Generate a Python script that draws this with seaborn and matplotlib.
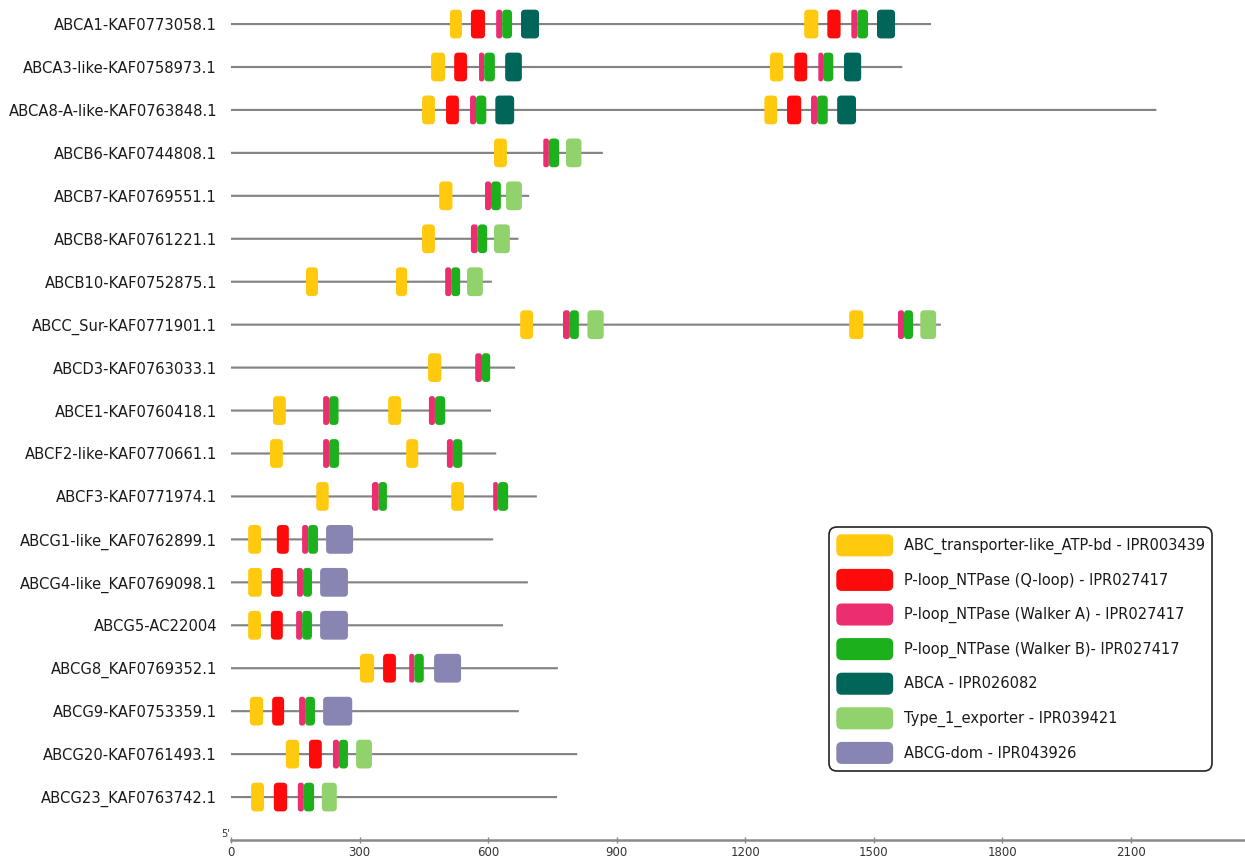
import matplotlib
matplotlib.use("Agg")
import matplotlib.pyplot as plt
from matplotlib.patches import FancyBboxPatch, Patch
from matplotlib.legend_handler import HandlerPatch
import seaborn as sns
import pandas as pd

# Proteins (top to bottom) and their lengths in amino acids
genes = [
    "ABCA1-KAF0773058.1", "ABCA3-like-KAF0758973.1", "ABCA8-A-like-KAF0763848.1",
    "ABCB6-KAF0744808.1", "ABCB7-KAF0769551.1", "ABCB8-KAF0761221.1",
    "ABCB10-KAF0752875.1", "ABCC_Sur-KAF0771901.1", "ABCD3-KAF0763033.1",
    "ABCE1-KAF0760418.1", "ABCF2-like-KAF0770661.1", "ABCF3-KAF0771974.1",
    "ABCG1-like_KAF0762899.1", "ABCG4-like_KAF0769098.1", "ABCG5-AC22004",
    "ABCG8_KAF0769352.1", "ABCG9-KAF0753359.1", "ABCG20-KAF0761493.1",
    "ABCG23_KAF0763742.1",
]
lengths = [1634, 1567, 2160, 868, 696, 671, 609, 1657, 663, 607,
           619, 714, 612, 693, 635, 763, 672, 808, 761]

# Domain hits: (gene symbol, start, end)
atp_bd = [
    ("ABCA1", 511, 539), ("ABCA1", 1338, 1371),
    ("ABCA3", 467, 500), ("ABCA3", 1258, 1289),
    ("ABCA8", 446, 476), ("ABCA8", 1245, 1275),
    ("ABCB6", 614, 644), ("ABCB7", 486, 517), ("ABCB8", 446, 476),
    ("ABCB10", 175, 203), ("ABCB10", 385, 411),
    ("ABCC", 675, 705), ("ABCC", 1443, 1476),
    ("ABCD3", 460, 491),
    ("ABCE1", 98, 128), ("ABCE1", 367, 397),
    ("ABCF2", 91, 121), ("ABCF2", 409, 437),
    ("ABCF3", 199, 228), ("ABCF3", 514, 544),
    ("ABCG1", 40, 70), ("ABCG4", 40, 72), ("ABCG5", 40, 70),
    ("ABCG8", 301, 334), ("ABCG9", 44, 75), ("ABCG20", 128, 159),
    ("ABCG23", 47, 77),
]
q_loop = [
    ("ABCA1", 560, 593), ("ABCA1", 1392, 1423),
    ("ABCA3", 521, 551), ("ABCA3", 1315, 1345),
    ("ABCA8", 502, 532), ("ABCA8", 1298, 1331),
    ("ABCG1", 107, 135), ("ABCG4", 93, 121), ("ABCG5", 93, 121),
    ("ABCG8", 355, 385), ("ABCG9", 96, 124), ("ABCG20", 182, 212),
    ("ABCG23", 100, 131),
]
walker_a = [
    ("ABCA1", 619, 633), ("ABCA1", 1448, 1462),
    ("ABCA3", 579, 591), ("ABCA3", 1371, 1382),
    ("ABCA8", 558, 572), ("ABCA8", 1354, 1368),
    ("ABCB6", 729, 742), ("ABCB7", 593, 607), ("ABCB8", 560, 576),
    ("ABCB10", 500, 514),
    ("ABCC", 775, 791), ("ABCC", 1557, 1571),
    ("ABCD3", 570, 586),
    ("ABCE1", 215, 229), ("ABCE1", 462, 476),
    ("ABCF2", 215, 229), ("ABCF2", 504, 518),
    ("ABCF3", 329, 345), ("ABCF3", 612, 623),
    ("ABCG1", 166, 180), ("ABCG4", 154, 168), ("ABCG5", 152, 166),
    ("ABCG8", 416, 428), ("ABCG9", 159, 173), ("ABCG20", 238, 252),
    ("ABCG23", 156, 170),
]
walker_b = [
    ("ABCA1", 633, 656), ("ABCA1", 1462, 1487),
    ("ABCA3", 591, 616), ("ABCA3", 1382, 1406),
    ("ABCA8", 572, 596), ("ABCA8", 1368, 1393),
    ("ABCB6", 742, 766), ("ABCB7", 607, 630), ("ABCB8", 576, 598),
    ("ABCB10", 514, 535),
    ("ABCC", 791, 812), ("ABCC", 1571, 1592),
    ("ABCD3", 586, 605),
    ("ABCE1", 229, 251), ("ABCE1", 476, 500),
    ("ABCF2", 229, 252), ("ABCF2", 518, 540),
    ("ABCF3", 345, 364), ("ABCF3", 623, 647),
    ("ABCG1", 180, 203), ("ABCG4", 168, 189), ("ABCG5", 166, 189),
    ("ABCG8", 428, 450), ("ABCG9", 173, 196), ("ABCG20", 252, 273),
    ("ABCG23", 170, 194),
]
abca_dom = [
    ("ABCA1", 677, 719), ("ABCA1", 1508, 1550),
    ("ABCA3", 640, 679), ("ABCA3", 1431, 1471),
    ("ABCA8", 617, 661), ("ABCA8", 1415, 1459),
]
type1_exporter = [
    ("ABCB6", 782, 818), ("ABCB7", 642, 679), ("ABCB8", 614, 651),
    ("ABCB10", 551, 588), ("ABCC", 832, 870), ("ABCC", 1609, 1646),
    ("ABCG20", 292, 329), ("ABCG23", 212, 247),
]
abcg_dom = [
    ("ABCG1", 222, 285), ("ABCG4", 208, 273), ("ABCG5", 208, 273),
    ("ABCG8", 474, 537), ("ABCG9", 215, 283),
]

domain_labels = [
    "ABC_transporter-like_ATP-bd - IPR003439",
    "P-loop_NTPase (Q-loop) - IPR027417",
    "P-loop_NTPase (Walker A) - IPR027417",
    "P-loop_NTPase (Walker B)- IPR027417",
    "ABCA - IPR026082",
    "Type_1_exporter - IPR039421",
    "ABCG-dom - IPR043926",
]
domain_colors = ["#FFC90E", "#FF0A0A", "#EC2D6F", "#1DB01D",
                 "#00665A", "#92D26C", "#8985B2"]
domain_sets = [atp_bd, q_loop, walker_a, walker_b, abca_dom,
               type1_exporter, abcg_dom]

x_ticks = [0, 300, 600, 900, 1200, 1500, 1800, 2100]
x_max = 2367

sns.set_theme(style="white")
plt.rcParams["font.family"] = ["DejaVu Sans"]

fig = plt.figure(figsize=(12.45, 8.61), dpi=100)
ax = fig.add_axes([231 / 1245, 21 / 861, 1014 / 1245, 840 / 861])

# Protein backbones as thin horizontal bars
df = pd.DataFrame({"gene": genes, "length": lengths})
sns.barplot(data=df, x="length", y="gene", orient="h", color="#838383",
            saturation=1, width=0.05, linewidth=0, errorbar=None, ax=ax)
for bar in ax.patches:
    bar.set_snap(False)

ax.set_xlim(0, x_max)
ax.set_ylim(len(genes), -0.56)

row = {g.split("-")[0].split("_")[0]: i for i, g in enumerate(genes)}

# Rounded domain boxes; aspect keeps corners circular on screen
x_px = ax.bbox.width / x_max
y_px = ax.bbox.height / (len(genes) + 0.56)
aspect = x_px / y_px
box_h = 0.67
for dom, color in zip(domain_sets, domain_colors):
    for sym, start, end in dom:
        w = end - start
        r = min(4.0 / x_px, 0.42 * w)
        ax.add_patch(FancyBboxPatch(
            (start, row[sym] - box_h / 2), w, box_h,
            boxstyle=f"round,pad=0,rounding_size={r}",
            mutation_aspect=aspect, facecolor=color, edgecolor="none",
            zorder=3))

sns.despine(ax=ax, left=True)
ax.spines["bottom"].set_color("#8a8a8a")
ax.spines["bottom"].set_linewidth(1.8)
ax.set_xlabel("")
ax.set_ylabel("")
ax.set_xticks(x_ticks)
ax.set_xticklabels([str(t) for t in x_ticks])
ax.tick_params(axis="x", bottom=True, direction="inout", length=5, width=1,
               color="#8a8a8a", labelsize=8.5, pad=2, labelcolor="#333333")
ax.tick_params(axis="y", left=False, length=0, pad=10, labelsize=10.6,
               labelcolor="#1a1a1a")

ax.annotate("5'", xy=(0, 0), xycoords="axes fraction", xytext=(-1, 1),
            textcoords="offset points", ha="right", va="bottom",
            fontsize=7, color="#333333")


def rounded_handle(legend, orig_handle, xdescent, ydescent, width, height,
                   fontsize):
    return FancyBboxPatch((-xdescent, -ydescent), width, height,
                          boxstyle="round,pad=0,rounding_size=4")


handles = [Patch(facecolor=c, edgecolor="none") for c in domain_colors]
leg = fig.legend(handles, domain_labels, loc="upper left",
                 bbox_to_anchor=(829 / 1245, 1 - 527 / 861),
                 bbox_transform=fig.transFigure, fontsize=10.5,
                 handlelength=3.9, handleheight=1.95, handletextpad=0.72,
                 labelspacing=0.86, borderpad=0.5, borderaxespad=0,
                 frameon=True, fancybox=True, framealpha=1,
                 edgecolor="#222222",
                 handler_map={Patch: HandlerPatch(patch_func=rounded_handle)})
leg.get_frame().set_linewidth(1.2)
leg.get_frame().set_boxstyle("round,pad=0,rounding_size=0.55")
for t in leg.get_texts():
    t.set_color("#1a1a1a")

fig.savefig("out.png", dpi=100)
